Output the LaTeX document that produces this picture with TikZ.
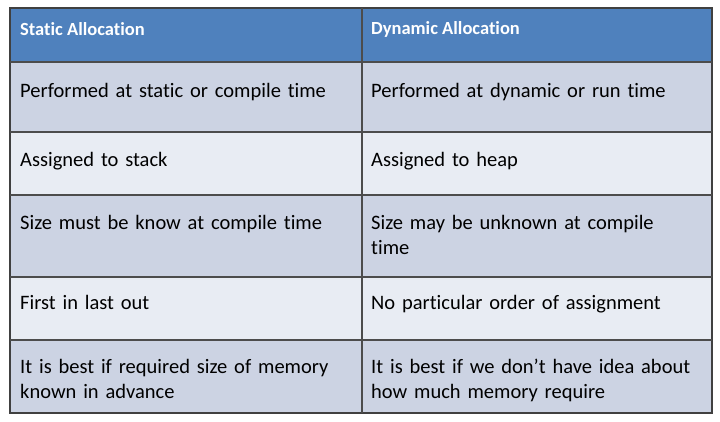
\documentclass[tikz,border=0pt]{standalone}
\usepackage{fontspec}
\setmainfont[Ligatures=NoCommon,Contextuals=NoAlternate]{Carlito}
\begin{document}
\begin{tikzpicture}[x=1pt,y=-1pt,
  hd/.style={anchor=west,text=white,font=\fontsize{18.5}{22}\selectfont\bfseries,inner sep=0},
  tx/.style={anchor=north west,align=left,text width=340pt,font=\fontsize{20.5}{25}\selectfont,inner sep=0}]
\useasboundingbox (0,0) rectangle (720,421);
\fill[white] (0,0) rectangle (720,421);
\definecolor{hdr}{HTML}{4F81BD}
\definecolor{ra}{HTML}{CCD3E3}
\definecolor{rb}{HTML}{E8ECF3}
\fill[hdr] (10,8) rectangle (712,62);
\fill[ra] (10,62) rectangle (712,132);
\fill[rb] (10,132) rectangle (712,195);
\fill[ra] (10,195) rectangle (712,277);
\fill[rb] (10,277) rectangle (712,340);
\fill[ra] (10,340) rectangle (712,413);
\draw[line width=1.5pt,draw=black!75] (10,8) rectangle (712,413);
\foreach \y in {62,132,195,277,340} \draw[line width=1.2pt,draw=black!70] (10,\y) -- (712,\y);
\draw[line width=1.2pt,draw=black!70] (362,8) -- (362,413);
\node[hd] (h1) at (20,29) {Static Allocation};
\node[hd] (h2) at (371,29) {Dynamic Allocation};
\node[tx] (a1) at (20,83) {Performed at static or compile time};
\node[tx] (b1) at (371,83) {Performed at dynamic or run time};
\node[tx] (a2) at (20,152) {Assigned to stack};
\node[tx] (b2) at (371,152) {Assigned to heap};
\node[tx] (a3) at (20,215) {Size must be know at compile time};
\node[tx] (b3) at (371,215) {Size may be unknown at compile\\time};
\node[tx] (a4) at (20,295) {First in last out};
\node[tx] (b4) at (371,295) {No particular order of assignment};
\node[tx] (a5) at (20,359) {It is best if required size of memory\\known in advance};
\node[tx] (b5) at (371,359) {It is best if we don’t have idea about\\how much memory require};
\end{tikzpicture}
\end{document}
